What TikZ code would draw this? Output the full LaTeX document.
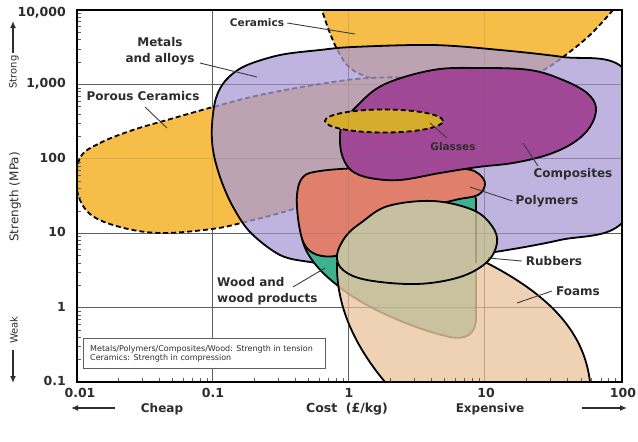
\documentclass[tikz,border=0pt]{standalone}
\usepackage{fontspec}
\setmainfont{DejaVu Sans}
\usetikzlibrary{arrows.meta}
\definecolor{cer}{RGB}{246,190,72}
\definecolor{met}{RGB}{170,154,214}
\definecolor{comp}{RGB}{160,72,150}
\definecolor{gla}{RGB}{214,172,44}
\definecolor{poly}{RGB}{224,128,108}
\definecolor{wood}{RGB}{62,178,142}
\definecolor{foam}{RGB}{236,198,162}
\definecolor{rub}{RGB}{198,192,160}
\definecolor{gridc}{RGB}{95,95,95}
\definecolor{txt}{RGB}{45,45,45}
\definecolor{ldrc}{RGB}{60,60,60}
\begin{document}
\begin{tikzpicture}[x=1pt,y=-1pt,
  lab/.style={font=\bfseries\fontsize{12}{16}\selectfont, text=txt, inner sep=0pt},
  ticklab/.style={font=\bfseries\fontsize{12.5}{14}\selectfont, text=txt, inner sep=0pt},
  ldr/.style={draw=ldrc, line width=0.9pt},
  outl/.style={draw=black, line width=1.8pt},
  dsh/.style={draw=black, line width=1.8pt, dash pattern=on 5pt off 3pt},
  gridl/.style={draw=gridc, line width=1pt},
  mtick/.style={draw=gridc, line width=0.6pt},
  axarrow/.style={draw=txt, line width=1.6pt, -{Latex[length=7pt,width=6pt]}}
]
\useasboundingbox[fill=white] (0,0) rectangle (638,442);

% grid
\foreach \gx in {212.25,348.5,484.75} \draw[gridl] (\gx,10) -- (\gx,382);
\foreach \gy in {84.4,158.8,233.2,307.6} \draw[gridl] (77,\gy) -- (622,\gy);

\begin{scope}
\clip (77,10) rectangle (622,382);
% Ceramics
\filldraw[fill=cer, dsh] plot[smooth, tension=0.6] coordinates {(613,10) (590,35) (563,57) (540,72) (500,90) (450,95) (400,84) (373,79) (350,68) (337,49) (328,28) (322,10)} -- cycle;
% Porous ceramics
\filldraw[fill=cer, dsh] plot[smooth cycle, tension=0.6] coordinates {(80,158) (100,143) (133,130) (167,120) (213,107) (260,95) (320,84) (370,78) (420,80) (450,100) (430,140) (380,180) (297,208) (245,222) (212,229) (160,233) (120,227) (90,214) (77,190)};
% Metals
\filldraw[fill=met, fill opacity=0.75, outl] plot[smooth cycle, tension=0.55] coordinates {(212,125) (216,98) (226,80) (245,66) (280,55) (320,50) (353,47) (433,45) (500,50) (563,57) (622,67) (660,140) (622,223) (560,240) (495,252) (420,262) (350,266) (310,262) (280,255) (250,232) (232,205) (220,177) (213,150)};
% Wood
\filldraw[fill=wood, outl] (476,200) -- (476,318) .. controls (476,335) and (465,340) .. (450,337) .. controls (410,328) and (360,305) .. (337,285) .. controls (320,272) and (305,255) .. (302,238) .. controls (300,210) and (330,185) .. (400,185) .. controls (440,185) and (476,185) .. (476,200) -- cycle;
% Polymers
\filldraw[fill=poly, outl] plot[smooth cycle, tension=0.6] coordinates {(297,195) (303,177) (320,171) (360,168) (420,167) (465,169) (479,174) (485,184) (478,195) (455,200) (420,210) (380,232) (345,253) (322,256) (306,247) (299,225)};
% Composites
\filldraw[fill=comp, outl] plot[smooth cycle, tension=0.6] coordinates {(342,125) (355,108) (383,85) (433,70) (480,68) (530,70) (563,80) (587,93) (596,108) (590,127) (573,143) (547,155) (513,163) (478,167) (440,173) (400,180) (370,178) (352,171) (343,158) (340,142)};
% Glasses
\filldraw[fill=gla, dsh] (384,121) ellipse [x radius=59pt, y radius=11.5pt];
% Foams
\fill[foam, fill opacity=0.8] (337,262) .. controls (336,300) and (350,340) .. (385,382) -- (590,382) .. controls (585,340) and (560,300) .. (485,262) .. controls (450,245) and (370,245) .. (337,262) -- cycle;
\draw[outl] (337,262) .. controls (336,300) and (350,340) .. (385,382);
\draw[outl] (485,262) .. controls (560,300) and (585,340) .. (590,382);
% Rubbers
\filldraw[fill=rub, outl] plot[smooth cycle, tension=0.6] coordinates {(337,255) (346,236) (362,222) (388,206) (433,201) (473,210) (492,226) (497,243) (487,262) (460,277) (417,284) (367,280) (343,270)};
\draw[black, opacity=0.18, line width=1.2pt] (476,210) -- (476,263);
% faint grid overlay
\foreach \gx in {212.25,348.5,484.75} \draw[gridc, opacity=0.18, line width=0.8pt] (\gx,10) -- (\gx,382);
\foreach \gy in {84.4,158.8,233.2,307.6} \draw[gridc, opacity=0.18, line width=0.8pt] (77,\gy) -- (622,\gy);
\end{scope}

% minor ticks
\foreach \d in {0,...,4}{\foreach \k in {2,...,9}{\draw[mtick] (77,{382-74.4*(\d+log10(\k))}) -- ++(4,0);}}
\foreach \d in {0,...,3}{\foreach \k in {2,...,9}{\draw[mtick] ({77+136.25*(\d+log10(\k))},382) -- ++(0,-4);}}

% frame
\draw[black, line width=2pt] (77,10) rectangle (622,382);

% legend
\node[draw=gridc, line width=0.9pt, fill=white, minimum width=242pt, minimum height=30pt, anchor=north west, inner sep=0pt] (legbox) at (83,338) {};
\node[anchor=west, align=left, font=\fontsize{8}{9.5}\selectfont, text=txt, inner sep=0pt] (legtxt) at (90,354) {Metals/Polymers/Composites/Wood: Strength in tension\\Ceramics: Strength in compression};

% y tick labels
\node[ticklab, anchor=east] (y1) at (66,13) {10,000};
\node[ticklab, anchor=east] (y2) at (66,84) {1,000};
\node[ticklab, anchor=east] (y3) at (66,158) {100};
\node[ticklab, anchor=east] (y4) at (66,232) {10};
\node[ticklab, anchor=east] (y5) at (66,307) {1};
\node[ticklab, anchor=east] (y6) at (66,381) {0.1};
% x tick labels
\node[ticklab] (x1) at (80,393) {0.01};
\node[ticklab] (x2) at (213,393) {0.1};
\node[ticklab] (x3) at (349,393) {1};
\node[ticklab] (x4) at (486,393) {10};
\node[ticklab] (x5) at (623,393) {100};

% axis titles
\node[ticklab] (cost) at (347,409) {Cost\ \ (£/kg)};
\node[lab] (cheap) at (162,409) {Cheap};
\node[lab] (expens) at (490,409) {Expensive};
\coordinate (chA) at (115,408); \coordinate (chB) at (71,408);
\draw[axarrow] (chA) -- (chB);
\coordinate (exA) at (582,408); \coordinate (exB) at (627,408);
\draw[axarrow] (exA) -- (exB);

\node[rotate=90, font=\fontsize{12}{14}\selectfont, text=txt, inner sep=0pt] (ytitle) at (15,197) {Strength (MPa)};
\node[rotate=90, font=\fontsize{10}{12}\selectfont, text=txt, inner sep=0pt] (strong) at (14,72) {Strong};
\node[rotate=90, font=\fontsize{10}{12}\selectfont, text=txt, inner sep=0pt] (weak) at (14,330) {Weak};
\coordinate (stA) at (13,53); \coordinate (stB) at (13,21);
\draw[axarrow] (stA) -- (stB);
\coordinate (wkA) at (13,350); \coordinate (wkB) at (13,383);
\draw[axarrow] (wkA) -- (wkB);

% labels and leaders
\node[lab, font=\bfseries\fontsize{10.5}{12}\selectfont] (lcer) at (257,23) {Ceramics};
\coordinate (pcer) at (355,34);
\draw[ldr] ([xshift=3pt]lcer.east) -- (pcer);

\node[lab, align=center] (lmet) at (160,51) {Metals\\and alloys};
\coordinate (smet) at (200,63); \coordinate (pmet) at (257,77);
\draw[ldr] (smet) -- (pmet);

\node[lab] (lpor) at (143,96) {Porous Ceramics};
\coordinate (spor) at (145,107); \coordinate (ppor) at (167,128);
\draw[ldr] (spor) -- (ppor);

\node[lab, font=\bfseries\fontsize{10.5}{12}\selectfont] (lgla) at (453,147) {Glasses};
\coordinate (sgla) at (447,138); \coordinate (pgla) at (430,123);
\draw[ldr] (sgla) -- (pgla);

\node[lab] (lcomp) at (573,174) {Composites};
\coordinate (scomp) at (538,166); \coordinate (pcomp) at (523,143);
\draw[ldr] (scomp) -- (pcomp);

\node[lab] (lpoly) at (547,201) {Polymers};
\coordinate (ppoly) at (470,187);
\draw[ldr] ([xshift=-3pt]lpoly.west) -- (ppoly);

\node[lab] (lrub) at (554,261) {Rubbers};
\coordinate (prub) at (488,258);
\draw[ldr] ([xshift=-4pt]lrub.west) -- (prub);

\node[lab] (lfoam) at (578,291) {Foams};
\coordinate (pfoam) at (517,303);
\draw[ldr] ([xshift=-4pt]lfoam.west) -- (pfoam);

\node[lab, align=left, anchor=west] (lwood) at (217,291) {Wood and\\wood products};
\coordinate (swood) at (293,287); \coordinate (pwood) at (325,268);
\draw[ldr] (swood) -- (pwood);
\end{tikzpicture}
\end{document}
